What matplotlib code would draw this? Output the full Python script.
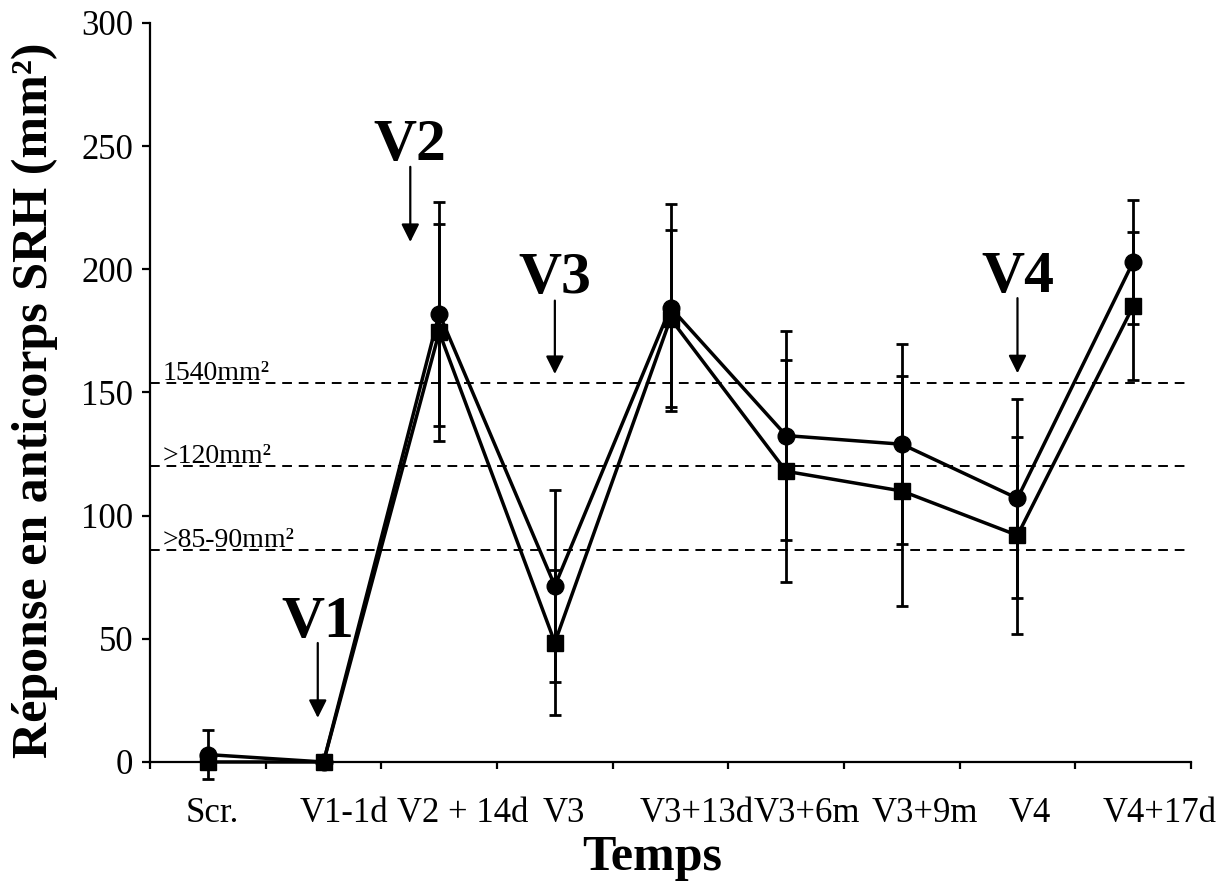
import numpy as np
import matplotlib
matplotlib.use("Agg")
import matplotlib.pyplot as plt

plt.rcParams["font.family"] = ["Liberation Serif", "DejaVu Serif"]

# categories on the time axis
time_points = ["Scr.", "V1-1d", "V2 + 14d", "V3", "V3+13d", "V3+6m", "V3+9m", "V4", "V4+17d"]
# where each tick label sits (labels are not centred on their points in the original)
label_pos = [0.04, 1.18, 2.2, 3.08, 4.23, 5.18, 6.2, 7.11, 8.23]

# circle series (mean, error)
circle_vals = [3, 0, 182, 71.5, 184.5, 132.5, 129, 107, 203]
circle_err = [10, 0, 45.5, 39, 42, 42.5, 40.5, 40.5, 25]

# square series (mean, error)
square_vals = [0, 0, 174.5, 48.5, 180, 118, 110, 92, 185]
square_err = [0, 0, 44, 29.5, 36, 45, 46.5, 40, 30]

# horizontal reference thresholds
thresholds = [154, 120, 86]
threshold_labels = ["1540mm\u00b2", ">120mm\u00b2", ">85-90mm\u00b2"]

# vaccination markers: label, x position, text baseline, arrow top, arrow tip
visit_labels = ["V1", "V2", "V3", "V4"]
visit_x = [0.95, 1.75, 3.0, 7.0]
visit_text_y = [50.7, 244.4, 190.4, 190.9]
visit_arrow_top = [48.3, 241.6, 187.3, 188.3]
visit_arrow_tip = [17.9, 211.1, 157.5, 157.8]


def main():
    fig = plt.figure(figsize=(12.21, 8.81), dpi=100)
    ax = fig.add_axes([0.1229, 0.1351, 0.8525, 0.8388])

    x = np.arange(len(time_points))

    # threshold lines + labels
    for yv, lab in zip(thresholds, threshold_labels):
        ax.axhline(yv, color="black", lw=1.4, ls=(0, (5, 3.5)), zorder=1)
        ax.text(-0.39, yv + 1.2, lab, fontsize=20, ha="left", va="baseline")

    # the two series
    for vals, err, mk, ms in [(circle_vals, circle_err, "o", 12),
                              (square_vals, square_err, "s", 11)]:
        lines = ax.errorbar(x, vals, yerr=err, color="black", lw=2.5,
                            marker=mk, markersize=ms, elinewidth=2,
                            capsize=4.5, capthick=2, zorder=3)
        for art in lines.get_children():
            art.set_clip_on(False)

    # visit arrows and labels
    for lab, vx, ty, atop, atip in zip(visit_labels, visit_x, visit_text_y,
                                       visit_arrow_top, visit_arrow_tip):
        ax.text(vx, ty, lab, fontsize=43, fontweight="bold",
                ha="center", va="baseline")
        ax.annotate("", xy=(vx, atip), xytext=(vx, atop),
                    arrowprops=dict(arrowstyle="-|>", color="black", lw=1.6,
                                    mutation_scale=27, shrinkA=0, shrinkB=0))

    ax.set_xlim(-0.5, len(time_points) - 0.5)
    ax.set_ylim(0, 300)
    ax.set_yticks(np.arange(0, 301, 50))

    ax.set_xticks(label_pos)
    ax.set_xticklabels(time_points)
    ax.set_xticks(np.arange(-0.5, len(time_points)), minor=True)

    ax.spines["top"].set_visible(False)
    ax.spines["right"].set_visible(False)
    ax.spines["left"].set_linewidth(1.6)
    ax.spines["bottom"].set_linewidth(1.6)

    ax.tick_params(axis="y", direction="out", length=6, width=1.6,
                   labelsize=25, pad=6)
    ax.tick_params(axis="x", which="major", length=0, labelsize=25, pad=25)
    ax.tick_params(axis="x", which="minor", direction="out", length=5, width=1.6)

    fig.text(35 / 1221, 1 - 400 / 881, "R\u00e9ponse en anticorps SRH (mm\u00b2)",
             rotation=90, fontsize=36, fontweight="bold",
             ha="center", va="center")
    fig.text(652 / 1221, 1 - 858 / 881, "Temps", fontsize=36,
             fontweight="bold", ha="center", va="center")

    fig.savefig("out.png", dpi=100)
    plt.close(fig)


if __name__ == "__main__":
    main()
